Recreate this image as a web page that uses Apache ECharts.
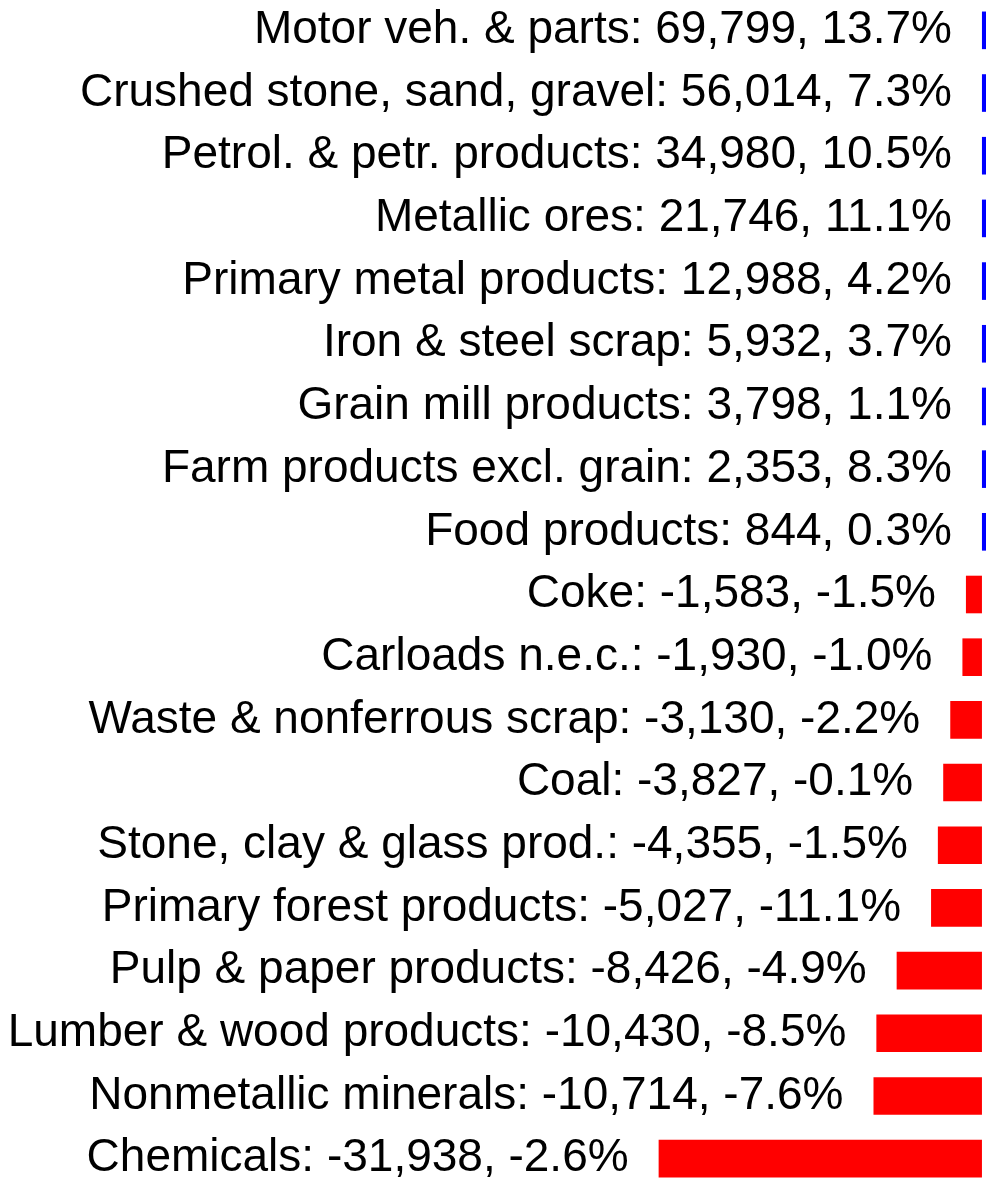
<!DOCTYPE html>
<html>
<head>
<meta charset="utf-8">
<script src="https://cdn.jsdelivr.net/npm/echarts@6/dist/echarts.min.js"></script>
<style>
html,body{margin:0;padding:0;background:#fff;}
#chart{width:986px;height:1182px;}
</style>
</head>
<body>
<div id="chart"></div>
<script>
const categories = [
  "Motor veh. & parts",
  "Crushed stone, sand, gravel",
  "Petrol. & petr. products",
  "Metallic ores",
  "Primary metal products",
  "Iron & steel scrap",
  "Grain mill products",
  "Farm products excl. grain",
  "Food products",
  "Coke",
  "Carloads n.e.c.",
  "Waste & nonferrous scrap",
  "Coal",
  "Stone, clay & glass prod.",
  "Primary forest products",
  "Pulp & paper products",
  "Lumber & wood products",
  "Nonmetallic minerals",
  "Chemicals"
];
const changes = [69799, 56014, 34980, 21746, 12988, 5932, 3798, 2353, 844,
  -1583, -1930, -3130, -3827, -4355, -5027, -8426, -10430, -10714, -31938];
const percents = ["13.7", "7.3", "10.5", "11.1", "4.2", "3.7", "1.1", "8.3", "0.3",
  "-1.5", "-1.0", "-2.2", "-0.1", "-1.5", "-11.1", "-4.9", "-8.5", "-7.6", "-2.6"];

const chart = echarts.init(document.getElementById('chart'), null, {renderer: 'canvas'});
const data = changes.map((v, i) => ({
  value: v,
  itemStyle: {color: v >= 0 ? '#0000ff' : '#ff0000'}
}));
chart.setOption({
  animation: false,
  backgroundColor: '#ffffff',
  grid: {left: 0, width: 986, top: -1, height: 1191, containLabel: false, outerBoundsMode: 'none'},
  xAxis: {
    type: 'value', min: -97000, max: 400,
    show: false
  },
  yAxis: {
    type: 'category', data: categories, inverse: true,
    show: false
  },
  series: [{
    type: 'bar',
    data: data,
    barWidth: '60%',
    clip: true,
    label: {
      show: true,
      position: 'left',
      distance: 30,
      fontFamily: 'Liberation Sans, Arial, sans-serif',
      fontSize: 46,
      color: '#000000',
      formatter: p => categories[p.dataIndex] + ': ' +
        changes[p.dataIndex].toLocaleString('en-US') + ', ' + percents[p.dataIndex] + '%'
    }
  }]
});
</script>
</body>
</html>
